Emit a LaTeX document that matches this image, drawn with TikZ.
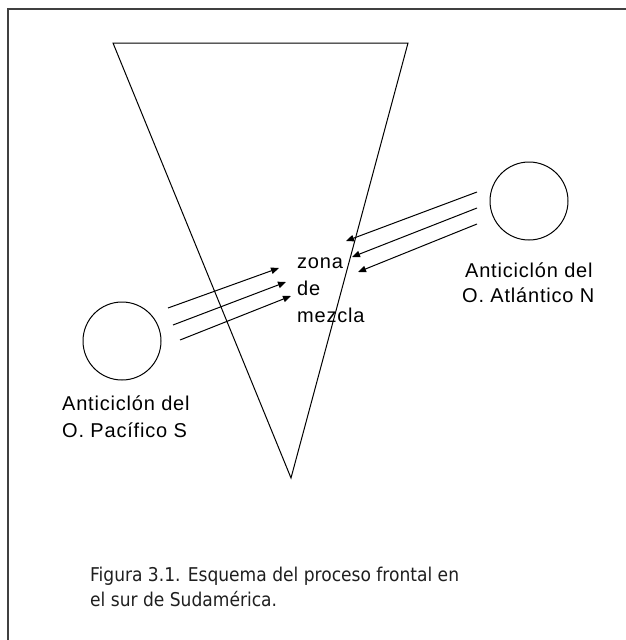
\documentclass[tikz,border=0pt]{standalone}
\usepackage{fontspec}
\setmainfont{Liberation Sans}
\newfontfamily\capfont{DejaVu Sans Condensed}
\usetikzlibrary{arrows.meta}
\begin{document}
\begin{tikzpicture}[x=1pt,y=-1pt,
  lbl/.style={anchor=base west,inner sep=0pt,font=\fontsize{20}{24}\selectfont\addfontfeature{LetterSpace=4}},
  captext/.style={anchor=base west,inner sep=0pt,font=\capfont\fontsize{19}{23}\selectfont,text=black!88},
  wind/.style={line width=1pt,-{Triangle[length=8pt,width=6.5pt]}},
  hp/.style={circle,draw,line width=1pt,minimum size=78pt,inner sep=0pt}]
\useasboundingbox (0,0) rectangle (625,640);
% frame
\coordinate (fb) at (8,641);
\coordinate (ftl) at (8,9);
\coordinate (ftr) at (626,9);
\draw[line width=1.3pt,black!75] (fb) -- (ftl) -- (ftr);
% triangle
\coordinate (t1) at (113,43);
\coordinate (t2) at (408,43);
\coordinate (t3) at (291,478);
\draw[line width=1pt] (t1) -- (t2) -- (t3) -- cycle;
% circles
\node[hp] (pac) at (122,341) {};
\node[hp] (atl) at (529,201) {};
% left arrows
\coordinate (a1s) at (168,308); \coordinate (a1e) at (279,268);
\coordinate (a2s) at (173,325); \coordinate (a2e) at (286,282);
\coordinate (a3s) at (180,340); \coordinate (a3e) at (291,296);
\draw[wind] (a1s) -- (a1e);
\draw[wind] (a2s) -- (a2e);
\draw[wind] (a3s) -- (a3e);
% right arrows
\coordinate (b1s) at (477,192); \coordinate (b1e) at (346,241);
\coordinate (b2s) at (477,208); \coordinate (b2e) at (352,257);
\coordinate (b3s) at (477,224); \coordinate (b3e) at (358,272);
\draw[wind] (b1s) -- (b1e);
\draw[wind] (b2s) -- (b2e);
\draw[wind] (b3s) -- (b3e);
% middle text
\node[lbl] (z1) at (297,268) {zona};
\node[lbl] (z2) at (297,295) {de};
\node[lbl] (z3) at (297,322) {mezcla};
% left label
\node[lbl] (p1) at (62,410) {Anticiclón del};
\node[lbl] (p2) at (62,437) {O. Pacífico S};
% right label
\node[lbl] (n1) at (465,277) {Anticiclón del};
\node[lbl] (n2) at (462,302) {O. Atlántico N};
% caption
\node[captext] (c1) at (90,581) {Figura 3.1. Esquema del proceso frontal en};
\node[captext] (c2) at (90,606) {el sur de Sudamérica.};
\end{tikzpicture}
\end{document}
